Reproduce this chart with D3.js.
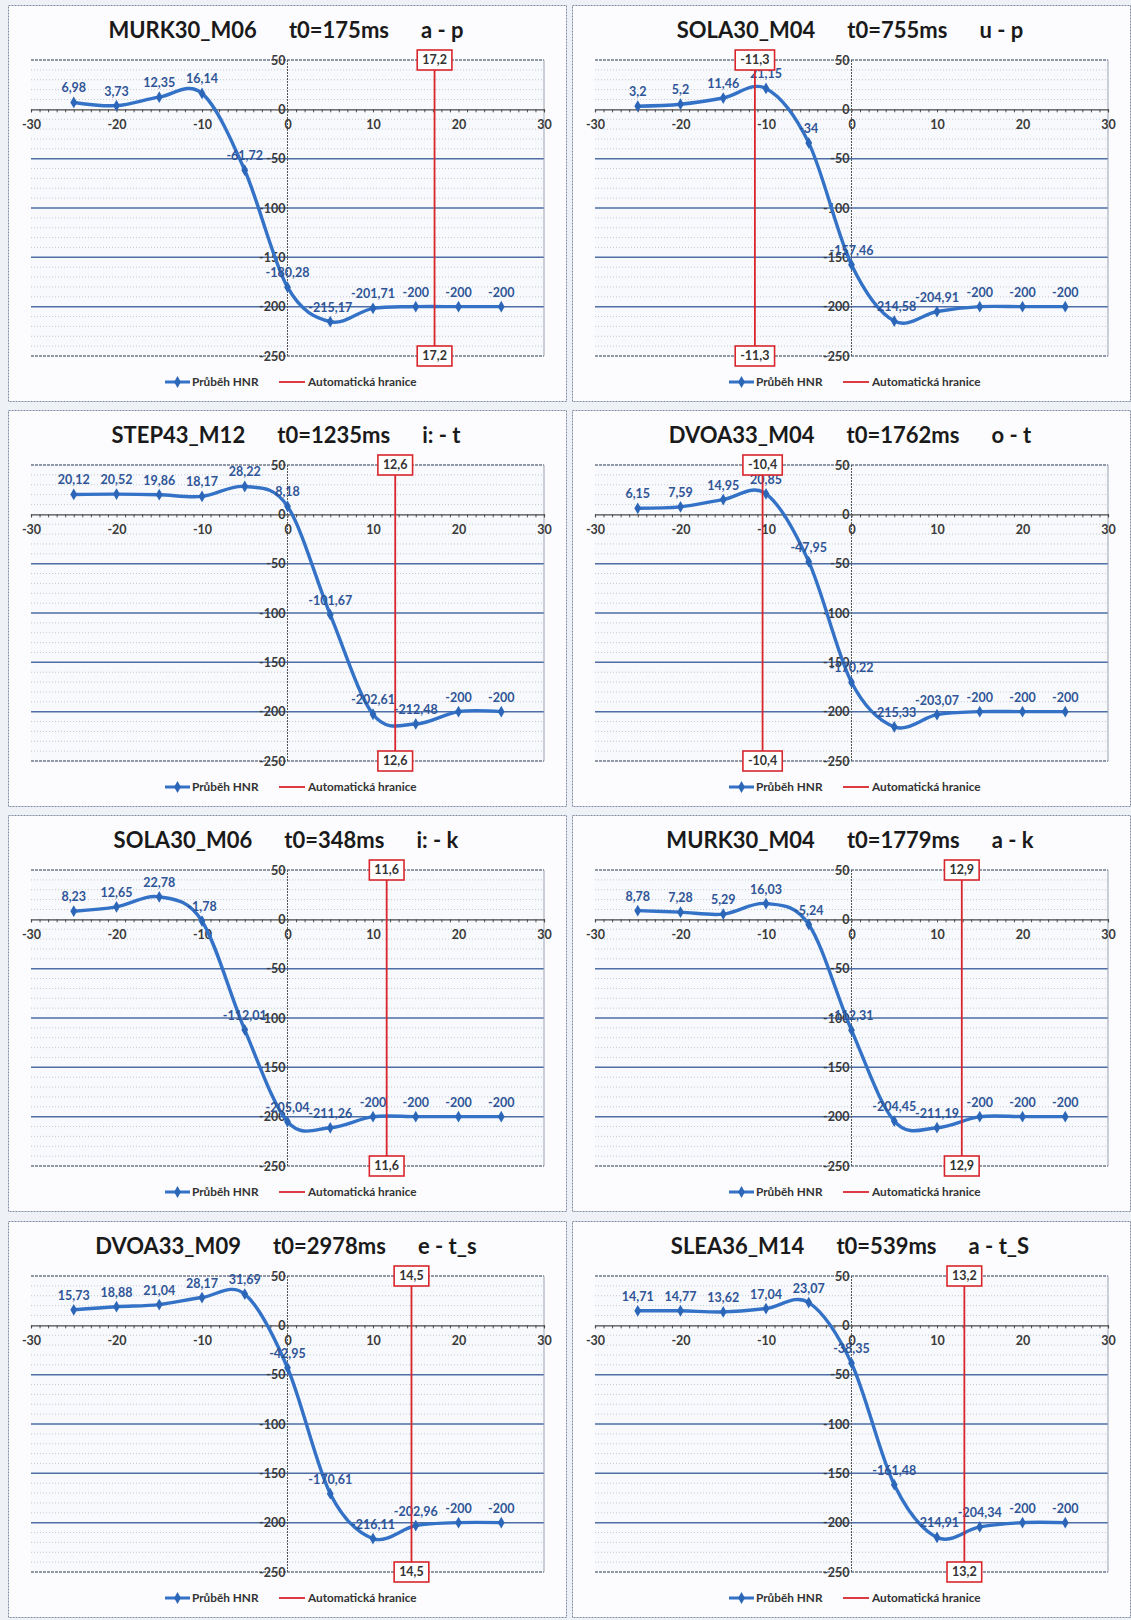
<!DOCTYPE html>
<html><head><meta charset="utf-8">
<script src="https://cdn.jsdelivr.net/npm/d3@7"></script>
<style>
body{margin:0;background:#eef1f6;}
svg text{font-family:Lato,"Open Sans",sans-serif;}
</style>
</head><body>
<svg id="chart" width="1131" height="1620"></svg>
<script>
// ---------- data ----------
const xValues = [-25,-20,-15,-10,-5,0,5,10,15,20,25];
const speakers = ["MURK30_M06","SOLA30_M04","STEP43_M12","DVOA33_M04","SOLA30_M06","MURK30_M04","DVOA33_M09","SLEA36_M14"];
const onsets = ["t0=175ms","t0=755ms","t0=1235ms","t0=1762ms","t0=348ms","t0=1779ms","t0=2978ms","t0=539ms"];
const transitions = ["a - p","u - p","i: - t","o - t","i: - k","a - k","e - t_s","a - t_S"];
const boundaries = [17.2,-11.3,12.6,-10.4,11.6,12.9,14.5,13.2];
const hnrMURK30_M06 = [6.98,3.73,12.35,16.14,-61.72,-180.28,-215.17,-201.71,-200,-200,-200];
const hnrSOLA30_M04 = [3.2,5.2,11.46,21.15,-34,-157.46,-214.58,-204.91,-200,-200,-200];
const hnrSTEP43_M12 = [20.12,20.52,19.86,18.17,28.22,8.18,-101.67,-202.61,-212.48,-200,-200];
const hnrDVOA33_M04 = [6.15,7.59,14.95,20.85,-47.95,-170.22,-215.33,-203.07,-200,-200,-200];
const hnrSOLA30_M06 = [8.23,12.65,22.78,-1.78,-112.01,-205.04,-211.26,-200,-200,-200,-200];
const hnrMURK30_M04 = [8.78,7.28,5.29,16.03,-5.24,-112.31,-204.45,-211.19,-200,-200,-200];
const hnrDVOA33_M09 = [15.73,18.88,21.04,28.17,31.69,-42.95,-170.61,-216.11,-202.96,-200,-200];
const hnrSLEA36_M14 = [14.71,14.77,13.62,17.04,23.07,-38.35,-161.48,-214.91,-204.34,-200,-200];
const seriesList = [hnrMURK30_M06,hnrSOLA30_M04,hnrSTEP43_M12,hnrDVOA33_M04,hnrSOLA30_M06,hnrMURK30_M04,hnrDVOA33_M09,hnrSLEA36_M14];
const xTicks = [-30,-20,-10,0,10,20,30];
const yTicks = [50,0,-50,-100,-150,-200,-250];
const legendLabels = ["Průběh HNR","Automatická hranice"];

// ---------- layout ----------
const svg = d3.select("#chart");
const colX = [8, 572];
const rowY = [5, 410, 815, 1221];
const PW = 558, PH = 396;
const PL = 23, PR = 536, PT = 55, PB = 351;
const fmt = v => String(v).replace(".", ",");
const blue = "#3372c6", labBlue = "#2f5597", red = "#d8262c", axisTxt = "#3a3a3a";

seriesList.forEach((vals, i) => {
  const g = svg.append("g").attr("transform", `translate(${colX[i % 2]},${rowY[Math.floor(i / 2)]})`);
  g.append("rect").attr("x", 0.5).attr("y", 0.5).attr("width", PW).attr("height", PH)
    .attr("fill", "#fcfcfe").attr("stroke", "#7f8ba3").attr("stroke-dasharray", "2,1");

  const x = d3.scaleLinear().domain([-30, 30]).range([PL, PR]);
  const y = d3.scaleLinear().domain([-250, 50]).range([PB, PT]);

  // title
  g.append("text").attr("x", PW / 2 - 1).attr("y", 33).attr("text-anchor", "middle")
    .style("white-space", "pre").attr("font-size", 22).attr("font-weight", 700).attr("fill", "#1a1a1a")
    .text(`${speakers[i]}      ${onsets[i]}      ${transitions[i]}`);

  // plot background
  g.append("rect").attr("x", x(-30)).attr("y", y(50)).attr("width", x(30) - x(-30)).attr("height", y(-250) - y(50))
    .attr("fill", "#f8f9fc");

  // minor gridlines
  const minor = d3.range(-240, 50, 10).filter(v => v % 50 !== 0);
  g.selectAll(".minor").data(minor).join("line")
    .attr("x1", x(-30)).attr("x2", x(30)).attr("y1", d => y(d)).attr("y2", d => y(d))
    .attr("stroke", "#c3c8d2").attr("stroke-dasharray", "1,2").attr("stroke-width", 1);
  // major gridlines
  g.selectAll(".major").data([-50, -100, -150, -200]).join("line")
    .attr("x1", x(-30)).attr("x2", x(30)).attr("y1", d => y(d)).attr("y2", d => y(d))
    .attr("stroke", "#4d6ea6").attr("stroke-width", 1.5);
  g.selectAll(".border").data([50, -250]).join("line")
    .attr("x1", x(-30)).attr("x2", x(30)).attr("y1", d => y(d)).attr("y2", d => y(d))
    .attr("stroke", "#6f7a8c").attr("stroke-width", 1.3).attr("stroke-dasharray", "3,1");
  g.append("line").attr("x1", x(30)).attr("x2", x(30)).attr("y1", y(50)).attr("y2", y(-250))
    .attr("stroke", "#9aa2b0").attr("stroke-width", 1);
  // y axis line at x=0
  g.append("line").attr("x1", x(0)).attr("x2", x(0)).attr("y1", y(50)).attr("y2", y(-250))
    .attr("stroke", "#555").attr("stroke-width", 1).attr("stroke-dasharray", "2,1");

  // x axis with minor ticks
  const xAxisMinor = g.append("g").attr("transform", `translate(0,${y(0)})`)
    .call(d3.axisBottom(x).tickValues(d3.range(-30, 31, 1)).tickSize(3).tickFormat(""));
  xAxisMinor.select(".domain").attr("stroke", "#4a4a4a").attr("stroke-width", 1.2);
  xAxisMinor.selectAll(".tick line").attr("stroke", "#4a4a4a");
  const xAxisLab = g.append("g").attr("transform", `translate(0,${y(0)})`)
    .call(d3.axisBottom(x).tickValues(xTicks).tickSize(0).tickPadding(11).tickFormat(d => String(d)));
  xAxisLab.select(".domain").remove();
  xAxisLab.selectAll("text").attr("font-size", 12.5).attr("font-weight", 700).attr("fill", axisTxt)
    .style("font-family", "Lato, sans-serif");

  // y axis labels
  const yAxis = g.append("g").attr("transform", `translate(${x(0)},0)`)
    .call(d3.axisLeft(y).tickValues(yTicks).tickSize(0).tickPadding(2).tickFormat(d => String(d)));
  yAxis.select(".domain").remove();
  yAxis.selectAll("text").attr("font-size", 12.5).attr("font-weight", 700).attr("fill", axisTxt)
    .style("font-family", "Lato, sans-serif");

  // series
  const pts = xValues.map((xv, k) => [xv, vals[k]]);
  const line = d3.line().x(d => x(d[0])).y(d => y(d[1])).curve(d3.curveCardinal.tension(0));
  g.append("path").datum(pts).attr("d", line).attr("fill", "none")
    .attr("stroke", blue).attr("stroke-width", 3.4).attr("stroke-linejoin", "round");
  g.selectAll(".mk").data(pts).join("path")
    .attr("transform", d => `translate(${x(d[0])},${y(d[1])})`)
    .attr("d", d3.symbol(d3.symbolDiamond, 40)).attr("fill", "#2c66b8");
  g.selectAll(".lab").data(pts).join("text")
    .attr("x", d => x(d[0])).attr("y", d => y(d[1]) - 10).attr("text-anchor", "middle")
    .attr("font-size", 12.5).attr("font-weight", 700).attr("fill", labBlue)
    .text(d => fmt(d[1]));

  // boundary line
  const b = boundaries[i];
  g.append("line").attr("x1", x(b)).attr("x2", x(b)).attr("y1", y(50)).attr("y2", y(-250))
    .attr("stroke", red).attr("stroke-width", 1.8);
  [50, -250].forEach(v => {
    const bg = g.append("g");
    const rect = bg.append("rect");
    const t = bg.append("text").attr("x", x(b)).attr("y", y(v)).attr("dy", "0.35em")
      .attr("text-anchor", "middle").attr("font-size", 12.5).attr("font-weight", 700).attr("fill", "#333")
      .text(fmt(b));
    const w = t.node().getComputedTextLength() + 10;
    rect.attr("x", x(b) - w / 2).attr("y", y(v) - 10).attr("width", w).attr("height", 20)
      .attr("fill", "#fff").attr("stroke", red).attr("stroke-width", 1.6);
  });

  // legend
  const lg = g.append("g").attr("transform", "translate(0,377)");
  lg.append("line").attr("x1", 157).attr("x2", 182).attr("y1", 0).attr("y2", 0).attr("stroke", blue).attr("stroke-width", 3);
  lg.append("path").attr("transform", "translate(169.5,0)").attr("d", d3.symbol(d3.symbolDiamond, 40)).attr("fill", "#2c66b8");
  lg.append("text").attr("x", 184).attr("y", 0).attr("dy", "0.35em").attr("font-size", 11.8).attr("font-weight", 700)
    .attr("fill", "#333").text(legendLabels[0]);
  lg.append("line").attr("x1", 271).attr("x2", 297).attr("y1", 0).attr("y2", 0).attr("stroke", red).attr("stroke-width", 1.8);
  lg.append("text").attr("x", 300).attr("y", 0).attr("dy", "0.35em").attr("font-size", 11.8).attr("font-weight", 700)
    .attr("fill", "#333").text(legendLabels[1]);
});
</script>
</body></html>
